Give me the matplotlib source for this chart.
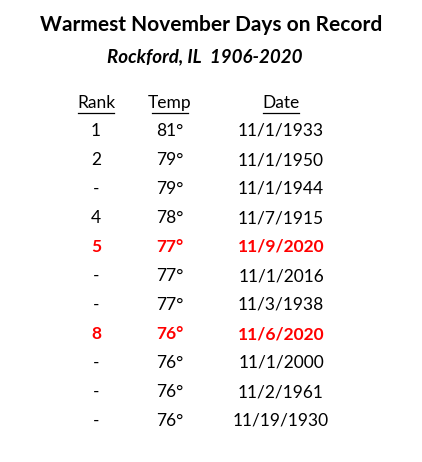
import matplotlib
matplotlib.use("Agg")
import matplotlib.pyplot as plt

# -----------------------------------------------------------------------
# Data
# -----------------------------------------------------------------------
TITLE    = "Warmest November Days on Record"
SUBTITLE = "Rockford, IL  1906-2020"
HEADERS  = ["Rank", "Temp", "Date"]
RANKS    = ["1", "2", "-", "4", "5", "-", "-", "8", "-", "-", "-"]
TEMPS    = [81, 79, 79, 78, 77, 77, 77, 76, 76, 76, 76]
DATES    = ["11/1/1933", "11/1/1950", "11/1/1944", "11/7/1915", "11/9/2020",
            "11/1/2016", "11/3/1938", "11/6/2020", "11/1/2000", "11/2/1961",
            "11/19/1930"]
HIGHLIGHT = [d.endswith("2020") for d in DATES]

# -----------------------------------------------------------------------
# Layout (pixel coordinates, origin top-left)
# -----------------------------------------------------------------------
W, H = 422, 462
COL_X = [96, 170, 281]
HEADER_Y = 103
ROW0_Y, ROW_DY = 131, 29
FONT = "Lato"

fig = plt.figure(figsize=(W / 100, H / 100), dpi=100)
ax = fig.add_axes([0, 0, 1, 1])
ax.set_xlim(0, W)
ax.set_ylim(H, 0)
ax.axis("off")

ax.text(211, 25, TITLE, ha="center", va="center", fontsize=15,
        fontweight="bold", family=FONT)
ax.text(205, 57, SUBTITLE, ha="center", va="center", fontsize=13.5,
        fontweight="bold", style="italic", family=FONT)

for x, h in zip(COL_X, HEADERS):
    ax.text(x, HEADER_Y, h, ha="center", va="center", fontsize=12.5,
            family=FONT)
    half = len(h) * 4.6
    ax.plot([x - half, x + half], [HEADER_Y + 10, HEADER_Y + 10],
            color="black", lw=0.9)

for i, (r, t, d, hl) in enumerate(zip(RANKS, TEMPS, DATES, HIGHLIGHT)):
    y = ROW0_Y + i * ROW_DY
    color = "#ff0000" if hl else "black"
    weight = "bold" if hl else "normal"
    for x, s in zip(COL_X, [r, f"{t}°", d]):
        ax.text(x, y, s, ha="center", va="center", fontsize=12.5,
                color=color, fontweight=weight, family=FONT)

fig.savefig("out.png", dpi=100)
